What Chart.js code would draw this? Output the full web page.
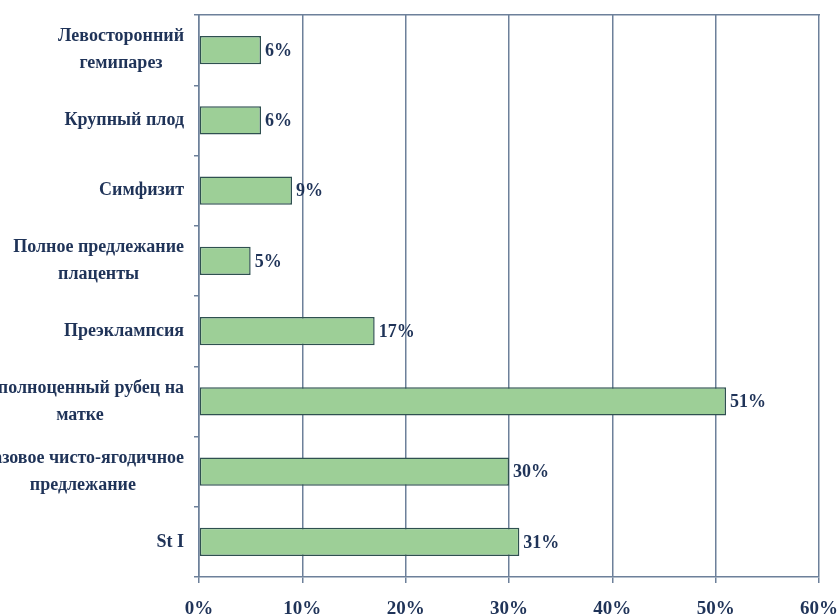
<!DOCTYPE html>
<html>
<head>
<meta charset="utf-8">
<script src="https://cdn.jsdelivr.net/npm/chart.js@4/dist/chart.umd.min.js"></script>
<style>
  html, body { margin: 0; padding: 0; background: #fff; }
  #wrap { width: 838px; height: 616px; position: relative; }
</style>
</head>
<body>
<div id="wrap"><canvas id="chart"></canvas></div>
<script>
// ── DATA ──────────────────────────────────────────────────────────────────
const categories = [
  ['Левосторонний', 'гемипарез'],
  'Крупный плод',
  'Симфизит',
  ['Полное предлежание', 'плаценты'],
  'Преэклампсия',
  ['Неполноценный рубец на', 'матке'],
  ['Тазовое чисто-ягодичное', 'предлежание'],
  'St I'
];
const values = [6, 6, 9, 5, 17, 51, 30, 31];
const xTicks = [0, 10, 20, 30, 40, 50, 60];

// ── STYLE ─────────────────────────────────────────────────────────────────
const TEXT   = '#1f3358';
const GRID   = '#6d809a';
const FILL   = '#9dcf97';
const EDGE   = '#2f5050';
const FONT   = '"Liberation Serif", "Times New Roman", serif';
const LINE_H = 27;

// category names: block right-aligned to the axis, lines centred inside it
const centredLabels = {
  id: 'centredLabels',
  afterDraw(chart) {
    const { ctx, chartArea } = chart;
    const y = chart.scales.y;
    ctx.save();
    ctx.font = `bold 18px ${FONT}`;
    ctx.fillStyle = TEXT;
    ctx.textAlign = 'center';
    ctx.textBaseline = 'middle';
    categories.forEach((lab, i) => {
      const lines = Array.isArray(lab) ? lab : [lab];
      const w  = Math.max(...lines.map(l => ctx.measureText(l).width));
      const cx = chartArea.left - 15 - w / 2;
      const cy = y.getPixelForTick(i);
      lines.forEach((l, j) => ctx.fillText(l, cx, cy + (j - (lines.length - 1) / 2) * LINE_H));
    });
    ctx.restore();
  }
};

// value labels at the end of each bar
const valueLabels = {
  id: 'valueLabels',
  afterDatasetsDraw(chart) {
    const { ctx } = chart;
    const meta = chart.getDatasetMeta(0);
    ctx.save();
    ctx.font = `bold 18px ${FONT}`;
    ctx.fillStyle = TEXT;
    ctx.textAlign = 'left';
    ctx.textBaseline = 'middle';
    meta.data.forEach((bar, i) => ctx.fillText(values[i] + '%', bar.x + 4, bar.y + 1));
    ctx.restore();
  }
};

new Chart(document.getElementById('chart'), {
  type: 'bar',
  data: {
    labels: categories,
    datasets: [{
      data: values,
      backgroundColor: FILL,
      borderColor: EDGE,
      borderWidth: 1.5,
      borderSkipped: false,
      barPercentage: 0.4,
      categoryPercentage: 1
    }]
  },
  options: {
    responsive: true, maintainAspectRatio: false,
    animation: false,
    indexAxis: 'y',
    layout: { padding: { top: 15, right: 0, bottom: 0, left: 0 } },
    plugins: { legend: { display: false }, tooltip: { enabled: false } },
    scales: {
      x: {
        min: 0, max: 60,
        afterBuildTicks: s => { s.ticks = xTicks.map(v => ({ value: v })); },
        afterFit: s => { s.height = 39; s.paddingRight = 19; },
        grid: { color: GRID, lineWidth: 1.5, tickLength: 6, tickColor: GRID },
        border: { color: GRID, width: 1.5 },
        ticks: {
          color: TEXT, padding: 15,
          font: { family: FONT, size: 19, weight: 'bold' },
          callback: v => v + '%'
        }
      },
      xTop: {
        position: 'top', axis: 'x',
        min: 0, max: 60,
        afterFit: s => { s.height = 0; },
        grid: { display: false },
        ticks: { display: false },
        border: { color: GRID, width: 1.5 }
      },
      y: {
        afterFit: s => { s.width = 199; },
        grid: { offset: true, drawOnChartArea: false, tickLength: 5, tickColor: GRID, lineWidth: 1.5 },
        border: { color: GRID, width: 1.5 },
        ticks: { display: false }
      }
    }
  },
  plugins: [centredLabels, valueLabels]
});
</script>
</body>
</html>
